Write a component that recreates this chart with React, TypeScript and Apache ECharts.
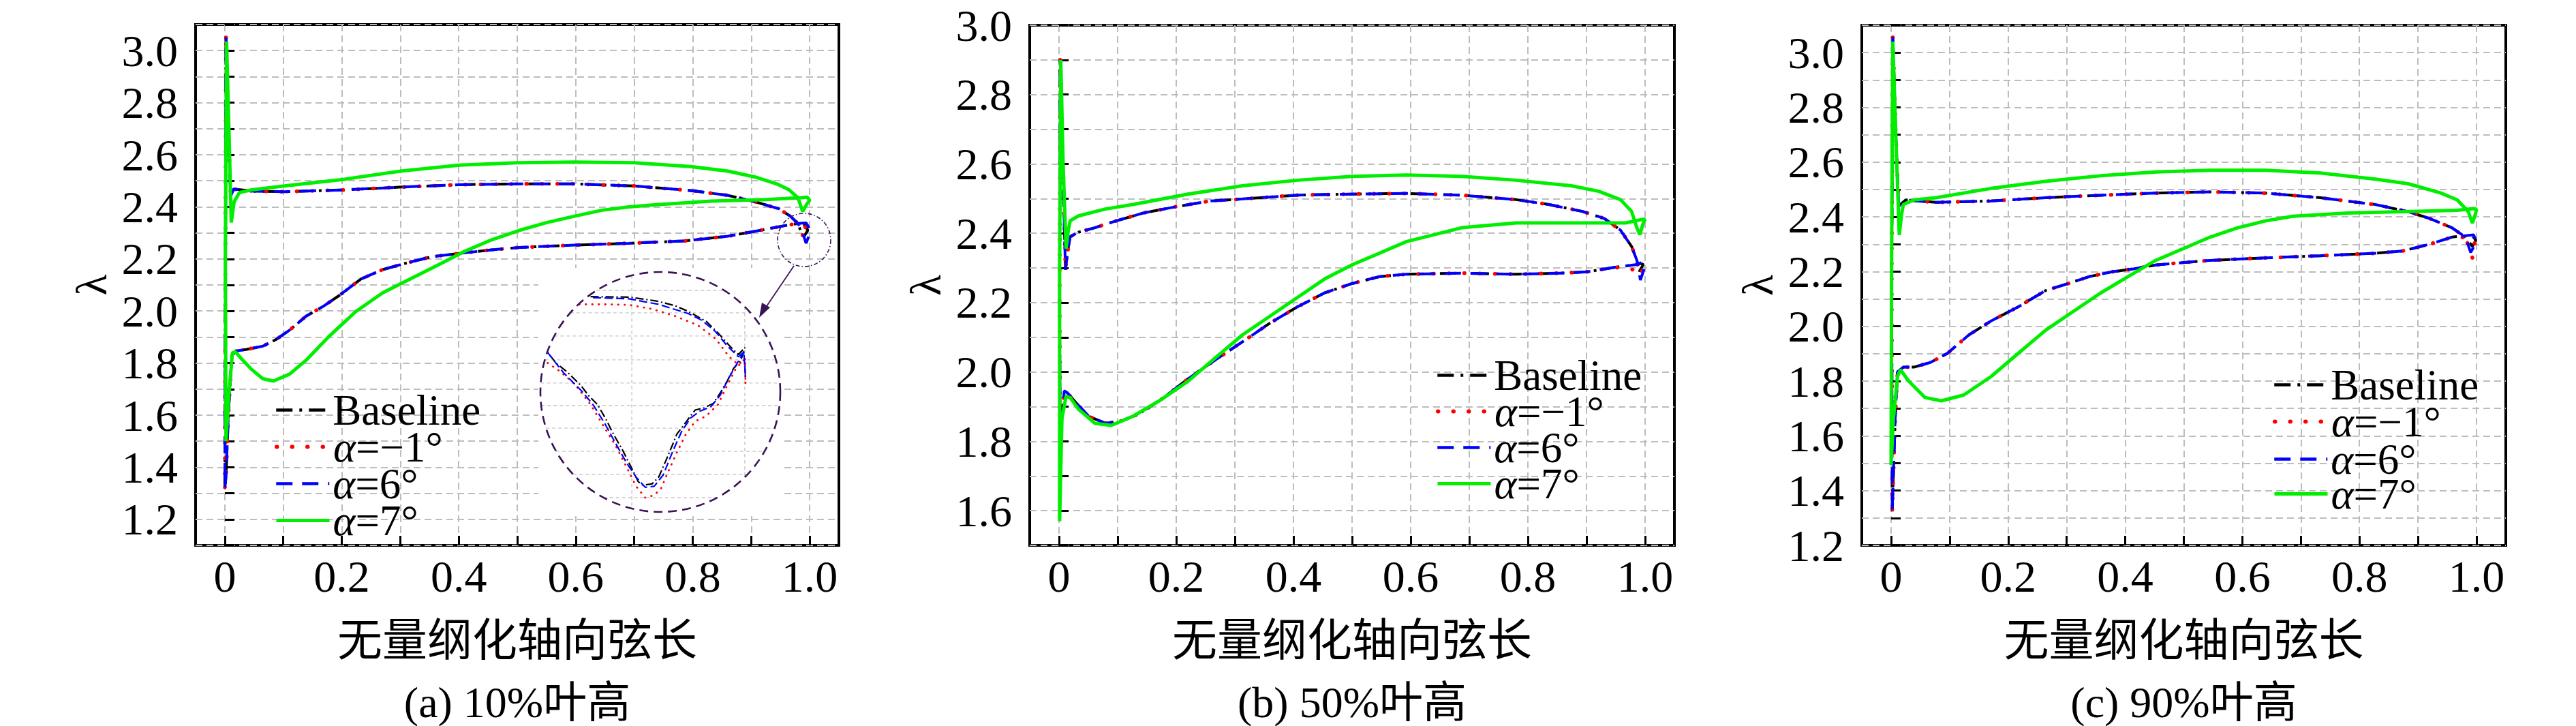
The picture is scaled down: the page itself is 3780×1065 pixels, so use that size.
import React, { useEffect, useRef } from "react";
import * as echarts from "echarts";

// ---------- tick values ----------
const xTickValues = [0, 0.1, 0.2, 0.3, 0.4, 0.5, 0.6, 0.7, 0.8, 0.9, 1.0];
const xLabelValues = [0, 0.2, 0.4, 0.6, 0.8, 1.0];
const yRanges = [
  [1.1, 3.1],
  [1.5, 3.0],
  [1.2, 3.1],
];
const yLabelValues = [
  [1.2, 1.4, 1.6, 1.8, 2.0, 2.2, 2.4, 2.6, 2.8, 3.0],
  [1.6, 1.8, 2.0, 2.2, 2.4, 2.6, 2.8, 3.0],
  [1.2, 1.4, 1.6, 1.8, 2.0, 2.2, 2.4, 2.6, 2.8, 3.0],
];
const captions = ["(a) 10%叶高", "(b) 50%叶高", "(c) 90%叶高"];
const seriesNames = ["Baseline", "α=−1°", "α=6°", "α=7°"];
const xAxisTitle = "无量纲化轴向弦长";
const yAxisTitle = "λ";

// ---------- panel (a) 10% ----------
const a_spike = [[0.002, 3.05], [0.006, 2.7], [0.01, 2.44], [0.015, 2.468], [0.025, 2.466]];
const a_suction = [[0.05, 2.46], [0.102, 2.458], [0.205, 2.465], [0.303, 2.476], [0.401, 2.485], [0.5, 2.488], [0.598, 2.488], [0.7, 2.48], [0.799, 2.462], [0.86, 2.444], [0.906, 2.42], [0.948, 2.392], [0.967, 2.364], [0.979, 2.338]];
const a_te_base = [[0.987, 2.296], [0.99, 2.285], [0.997, 2.31], [0.99, 2.333]];
const a_te_m1 = [[0.985, 2.32], [0.992, 2.251], [0.998, 2.3], [0.99, 2.332]];
const a_te_p6 = [[0.985, 2.32], [0.994, 2.26], [1.002, 2.309], [0.994, 2.338]];
const a_pressure = [[0.98, 2.336], [0.963, 2.33], [0.916, 2.31], [0.86, 2.287], [0.785, 2.269], [0.691, 2.26], [0.598, 2.253], [0.504, 2.244], [0.457, 2.235], [0.401, 2.221], [0.355, 2.209], [0.312, 2.185], [0.27, 2.159], [0.233, 2.123], [0.196, 2.06], [0.167, 2.016], [0.139, 1.98], [0.111, 1.927], [0.088, 1.891], [0.065, 1.865], [0.036, 1.852], [0.02, 1.847]];
const a_le = [[0.012, 1.83], [0.006, 1.6], [0.002, 1.36], [0.0, 1.32], [0.001, 2.2], [0.002, 3.05]];
const a_alpha7 = [[0.003, 3.035], [0.007, 2.7], [0.011, 2.34], [0.016, 2.42], [0.025, 2.455], [0.046, 2.465], [0.102, 2.48], [0.205, 2.506], [0.303, 2.538], [0.401, 2.56], [0.5, 2.569], [0.598, 2.572], [0.7, 2.569], [0.799, 2.554], [0.86, 2.537], [0.906, 2.515], [0.944, 2.488], [0.965, 2.465], [0.98, 2.435], [0.988, 2.382], [0.995, 2.41], [1.0, 2.425], [0.996, 2.437], [0.985, 2.435], [0.925, 2.428], [0.832, 2.422], [0.738, 2.408], [0.691, 2.4], [0.645, 2.387], [0.598, 2.364], [0.551, 2.34], [0.504, 2.31], [0.457, 2.274], [0.411, 2.23], [0.364, 2.176], [0.317, 2.123], [0.27, 2.07], [0.224, 1.998], [0.177, 1.9], [0.139, 1.811], [0.111, 1.758], [0.083, 1.731], [0.065, 1.74], [0.046, 1.775], [0.027, 1.82], [0.018, 1.843], [0.013, 1.84], [0.007, 1.68], [0.002, 1.5], [0.001, 2.2], [0.003, 3.035]];

// ---------- panel (b) 50% ----------
const b_spike = [[0.002, 2.9], [0.007, 2.55], [0.011, 2.295], [0.015, 2.35], [0.019, 2.39]];
const b_suction = [[0.033, 2.403], [0.061, 2.416], [0.098, 2.436], [0.145, 2.459], [0.201, 2.477], [0.257, 2.493], [0.313, 2.499], [0.407, 2.51], [0.5, 2.513], [0.593, 2.515], [0.687, 2.51], [0.78, 2.497], [0.836, 2.483], [0.893, 2.463], [0.93, 2.443], [0.958, 2.409], [0.977, 2.362], [0.986, 2.322]];
const b_te_base = [[0.99, 2.29], [0.997, 2.31], [0.993, 2.313], [0.985, 2.31]];
const b_te_m1 = [[0.99, 2.28], [0.998, 2.3], [0.99, 2.296], [0.975, 2.295]];
const b_te_p6 = [[0.992, 2.265], [0.999, 2.3], [0.996, 2.318], [0.986, 2.31]];
const b_pressure = [[0.949, 2.302], [0.902, 2.289], [0.855, 2.285], [0.78, 2.282], [0.687, 2.285], [0.593, 2.282], [0.547, 2.275], [0.5, 2.255], [0.453, 2.228], [0.407, 2.188], [0.36, 2.141], [0.313, 2.087], [0.266, 2.034], [0.22, 1.98], [0.173, 1.919], [0.136, 1.879], [0.107, 1.859], [0.079, 1.852], [0.051, 1.872], [0.028, 1.913], [0.014, 1.94], [0.009, 1.946]];
const b_le = [[0.005, 1.87], [0.002, 1.8], [0.001, 2.2], [0.002, 2.9]];
const b_alpha7 = [[0.003, 2.9], [0.007, 2.6], [0.012, 2.356], [0.016, 2.41], [0.019, 2.436], [0.033, 2.45], [0.079, 2.47], [0.126, 2.483], [0.22, 2.513], [0.313, 2.537], [0.407, 2.553], [0.5, 2.564], [0.593, 2.568], [0.687, 2.564], [0.78, 2.553], [0.874, 2.537], [0.921, 2.521], [0.958, 2.497], [0.977, 2.463], [0.986, 2.416], [0.991, 2.396], [0.997, 2.43], [1.0, 2.44], [0.995, 2.44], [0.967, 2.43], [0.874, 2.43], [0.78, 2.43], [0.687, 2.416], [0.593, 2.376], [0.5, 2.309], [0.453, 2.268], [0.407, 2.215], [0.36, 2.161], [0.313, 2.107], [0.266, 2.04], [0.22, 1.973], [0.173, 1.919], [0.126, 1.872], [0.089, 1.846], [0.061, 1.852], [0.033, 1.893], [0.019, 1.926], [0.012, 1.93], [0.005, 1.866], [0.001, 1.57], [0.001, 2.3], [0.003, 2.9]];

// ---------- panel (c) 90% ----------
const c_spike = [[0.003, 3.056], [0.008, 2.7], [0.013, 2.44], [0.016, 2.445], [0.025, 2.462]];
const c_suction = [[0.05, 2.457], [0.077, 2.453], [0.171, 2.458], [0.264, 2.47], [0.358, 2.479], [0.452, 2.487], [0.545, 2.491], [0.639, 2.487], [0.733, 2.47], [0.827, 2.445], [0.883, 2.419], [0.92, 2.394], [0.958, 2.36], [0.981, 2.326]];
const c_te_base = [[0.993, 2.292], [0.999, 2.315], [0.993, 2.33], [0.975, 2.33]];
const c_te_m1 = [[0.993, 2.25], [0.998, 2.3], [0.99, 2.325], [0.975, 2.325]];
const c_te_p6 = [[0.99, 2.27], [1.0, 2.309], [0.995, 2.334], [0.975, 2.33]];
const c_pressure = [[0.958, 2.326], [0.92, 2.3], [0.873, 2.275], [0.827, 2.267], [0.733, 2.258], [0.639, 2.25], [0.545, 2.241], [0.498, 2.233], [0.452, 2.224], [0.414, 2.21], [0.377, 2.199], [0.339, 2.182], [0.302, 2.156], [0.264, 2.131], [0.217, 2.071], [0.171, 2.02], [0.133, 1.969], [0.096, 1.901], [0.067, 1.868], [0.039, 1.851], [0.021, 1.851], [0.011, 1.834]];
const c_le = [[0.007, 1.664], [0.002, 1.324], [0.001, 2.2], [0.003, 3.056]];
const c_alpha7 = [[0.003, 3.04], [0.008, 2.7], [0.014, 2.334], [0.018, 2.41], [0.021, 2.445], [0.039, 2.462], [0.077, 2.47], [0.171, 2.504], [0.264, 2.53], [0.358, 2.55], [0.452, 2.564], [0.545, 2.57], [0.639, 2.57], [0.733, 2.56], [0.827, 2.538], [0.883, 2.521], [0.939, 2.487], [0.967, 2.462], [0.986, 2.419], [0.993, 2.377], [0.998, 2.41], [1.0, 2.428], [0.995, 2.43], [0.967, 2.424], [0.873, 2.419], [0.78, 2.414], [0.686, 2.402], [0.639, 2.385], [0.592, 2.36], [0.545, 2.326], [0.499, 2.284], [0.452, 2.241], [0.405, 2.182], [0.358, 2.122], [0.311, 2.054], [0.264, 1.986], [0.217, 1.901], [0.171, 1.817], [0.124, 1.749], [0.086, 1.728], [0.058, 1.74], [0.03, 1.8], [0.016, 1.842], [0.011, 1.817], [0.004, 1.664], [0.0, 1.494], [0.001, 2.3], [0.003, 3.04]];

// ---------- inset of panel (a): magnified trailing edge (local 0..100 units) ----------
const inset_base = [[20.9, 89.5], [37.0, 89.3], [48.4, 87.7], [56.0, 85.8], [61.6, 83.4], [69.2, 79.2], [74.0, 74.5], [78.7, 69.3], [82.5, 65.5], [85.3, 68.4], [83.5, 63.0], [80.6, 59.9], [77.7, 54.2], [74.9, 49.5], [72.1, 45.3], [68.3, 43.4], [64.5, 42.5], [62.6, 40.1], [59.8, 36.3], [56.9, 32.6], [55.0, 27.9], [52.2, 21.3], [49.3, 14.7], [46.5, 11.9], [42.7, 11.4], [40.8, 12.8], [38.0, 18.5], [34.2, 26.0], [30.4, 32.6], [27.6, 38.2], [23.8, 44.8], [20.0, 48.6], [17.1, 52.4], [11.5, 58.0], [6.7, 61.8], [2.9, 66.5]];
const inset_m1 = [[16.2, 86.3], [27.6, 86.3], [37.0, 86.1], [46.5, 84.4], [56.0, 81.5], [65.4, 77.8], [73.0, 72.1], [78.7, 64.6], [82.5, 61.3], [85.3, 63.7], [85.5, 53.3], [85.3, 63.7], [81.6, 59.9], [77.7, 52.4], [74.0, 44.8], [69.2, 40.1], [64.5, 37.8], [60.7, 32.6], [56.9, 25.0], [53.1, 16.6], [50.3, 10.0], [47.4, 7.2], [43.7, 6.2], [39.9, 10.9], [36.1, 18.5], [31.3, 27.9], [26.6, 35.4], [20.9, 44.8], [14.3, 53.3], [7.7, 58.9], [2.0, 62.7]];
const inset_p6 = [[21.9, 89.1], [37.0, 88.6], [49.3, 86.3], [61.6, 82.5], [67.3, 79.7], [73.0, 75.0], [77.7, 69.3], [82.5, 64.6], [84.8, 66.5], [85.5, 56.1], [84.8, 66.5], [82.5, 62.7], [78.7, 56.1], [74.9, 48.6], [71.1, 43.9], [66.4, 42.0], [62.6, 39.2], [58.8, 33.5], [55.0, 25.0], [51.2, 15.6], [47.4, 10.9], [43.7, 10.5], [39.9, 14.7], [36.1, 20.3], [31.3, 28.8], [26.6, 37.3], [21.9, 44.8], [17.1, 50.5], [9.6, 58.0], [2.9, 66.5]];
const insetGridV = [38.1, 85.2];
const insetGridH = [92.1, 82.8, 73.2, 63.3, 53.7, 44.4, 35.0, 25.4, 15.8, 6.2];

// ---------- layout ----------
const W = 3780;
const H = 1065;
const grids = [
  { left: 287, top: 36, width: 944, height: 764 },
  { left: 1511, top: 37, width: 946, height: 763 },
  { left: 2732, top: 37, width: 945, height: 763 },
];
// legend: left edge of the key line, and the centre line of each of the four rows
const legendLeft = [403, 2107, 3335];
const legendRows = [
  [597, 651, 705, 759],
  [546, 599, 652, 705],
  [560, 614, 669, 720],
];
const insetBox = { left: 793, top: 398, width: 352, height: 354 };
const X_MIN = -0.05;
const X_MAX = 1.05;
const TICK_FONT = "66px Liberation Serif, serif";
const X_LABEL_OFFSET = 45; // centre of x tick labels below the frame
const Y_LABEL_OFFSET = 26; // gap between frame and right edge of y tick labels
const LAMBDA_OFFSET = 153; // frame left to centre of the λ title

const SERIF = "Liberation Serif";
const CJK = "Noto Sans CJK SC";
const MIXED = "Liberation Serif, Noto Sans CJK SC, serif";
const PURPLE = "#3a1356";

const styles = [
  { color: "#000000", width: 4.5, type: [24, 10, 4, 10] },
  { color: "#ff0000", width: 6, type: [0.5, 22], cap: "round" },
  { color: "#0000ff", width: 4.5, type: [24, 14] },
  { color: "#00ee00", width: 5, type: "solid" },
];
const insetStyles = [
  { color: "#000000", width: 2.2, type: [12, 4, 2, 4] },
  { color: "#ff0000", width: 2.8, type: [0.5, 9], cap: "round" },
  { color: "#0000ff", width: 2.2, type: [12, 5] },
];

function buildOption() {
  const panels = [
    { spike: a_spike, suc: a_suction, te: [a_te_base, a_te_m1, a_te_p6], pre: a_pressure, le: a_le, g: a_alpha7 },
    { spike: b_spike, suc: b_suction, te: [b_te_base, b_te_m1, b_te_p6], pre: b_pressure, le: b_le, g: b_alpha7 },
    { spike: c_spike, suc: c_suction, te: [c_te_base, c_te_m1, c_te_p6], pre: c_pressure, le: c_le, g: c_alpha7 },
  ];

  const series: any[] = [];
  panels.forEach((p, i) => {
    for (let k = 0; k < 3; k++) {
      series.push({
        type: "line",
        name: seriesNames[k],
        xAxisIndex: i,
        yAxisIndex: i,
        data: [...p.spike, ...p.suc, ...p.te[k], ...p.pre, ...p.le],
        symbol: "none",
        lineStyle: { ...styles[k], width: styles[k].width - 0.5 },
        itemStyle: { color: styles[k].color },
        z: 2 + k,
      });
    }
    series.push({
      type: "line",
      name: seriesNames[3],
      xAxisIndex: i,
      yAxisIndex: i,
      data: p.g,
      symbol: "none",
      lineStyle: styles[3],
      itemStyle: { color: styles[3].color },
      z: 6,
    });

    // tick labels, placed by this panel's own axis scales (serif face)
    const yMin = yRanges[i][0];
    const labelData = [
      ...xLabelValues.map((v) => [v, 0]),
      ...yLabelValues[i].map((v) => [v, 1]),
    ];
    series.push({
      type: "custom",
      name: "tick-labels-" + i,
      xAxisIndex: i,
      yAxisIndex: i,
      data: labelData,
      clip: false,
      silent: true,
      z: 12,
      renderItem: (params: any, api: any) => {
        const v = api.value(0);
        const kind = api.value(1);
        if (kind === 0) {
          const pt = api.coord([v, yMin]);
          const txt = Math.abs(v) < 1e-9 ? "0" : v.toFixed(1);
          return {
            type: "text",
            x: pt[0],
            y: pt[1] + X_LABEL_OFFSET,
            style: { text: txt, font: TICK_FONT, fill: "#000", align: "center", verticalAlign: "middle", textAlign: "center", textVerticalAlign: "middle" },
          };
        }
        const pt = api.coord([X_MIN, v]);
        return {
          type: "text",
          x: pt[0] - Y_LABEL_OFFSET,
          y: pt[1],
          style: { text: v.toFixed(1), font: TICK_FONT, fill: "#000", align: "right", verticalAlign: "middle", textAlign: "right", textVerticalAlign: "middle" },
        };
      },
    });
  });

  // inset faint grid (clipped to the circle)
  const insetLines = [
    ...insetGridV.map((v) => [v, 1]),
    ...insetGridH.map((v) => [v, 0]),
  ];
  series.push({
    type: "custom",
    name: "inset-grid",
    xAxisIndex: 3,
    yAxisIndex: 3,
    data: insetLines,
    z: 3,
    silent: true,
    renderItem: (params: any, api: any) => {
      const v = api.value(0);
      const dir = api.value(1);
      const c = api.coord([50, 50]);
      const r = api.size([50, 50])[0];
      const st = { stroke: "#c8c8c8", lineWidth: 1.4, lineDash: [5, 4] };
      if (dir === 1) {
        const px = api.coord([v, 0])[0];
        const dx = px - c[0];
        const half = Math.sqrt(Math.max(0, r * r - dx * dx));
        return { type: "line", shape: { x1: px, y1: c[1] - half, x2: px, y2: c[1] + half }, style: st };
      }
      const py = api.coord([0, v])[1];
      const dy = py - c[1];
      const half = Math.sqrt(Math.max(0, r * r - dy * dy));
      return { type: "line", shape: { x1: c[0] - half, y1: py, x2: c[0] + half, y2: py }, style: st };
    },
  });
  [inset_base, inset_m1, inset_p6].forEach((d, k) => {
    series.push({
      type: "line",
      name: "inset-" + k,
      xAxisIndex: 3,
      yAxisIndex: 3,
      data: d,
      symbol: "none",
      lineStyle: insetStyles[k],
      z: 4 + k,
      silent: true,
    });
  });

  const xAxis: any[] = grids.map((_, i) => ({
    type: "value",
    gridIndex: i,
    min: X_MIN,
    max: X_MAX,
    axisLine: { show: false },
    axisTick: { show: true, inside: true, length: 14, lineStyle: { color: "#000", width: 3 }, customValues: xTickValues },
    axisLabel: { show: false, customValues: xLabelValues },
    splitLine: { show: true, lineStyle: { color: "#bdbdbd", width: 2, type: [10, 6] } },
    name: xAxisTitle,
    nameLocation: "middle",
    nameGap: 100,
    nameTextStyle: { color: "#000", fontFamily: CJK, fontSize: 66 },
  }));
  xAxis.push({ type: "value", gridIndex: 3, min: 0, max: 100, show: false });

  const yAxis: any[] = grids.map((_, i) => ({
    type: "value",
    gridIndex: i,
    min: yRanges[i][0],
    max: yRanges[i][1],
    interval: 0.1,
    axisLine: { show: false },
    axisTick: { show: true, inside: true, length: 14, lineStyle: { color: "#000", width: 3 } },
    axisLabel: { show: false },
    splitLine: { show: true, lineStyle: { color: "#bdbdbd", width: 2, type: [10, 6] } },
  }));
  yAxis.push({ type: "value", gridIndex: 3, min: 0, max: 100, show: false });

  const grid: any[] = grids.map((g) => ({
    ...g,
    show: true,
    borderColor: "#000",
    borderWidth: 4,
    backgroundColor: "transparent",
    containLabel: false,
  }));
  grid.push({ ...insetBox, show: false, containLabel: false });

  // one legend component per key row, so each row sits exactly where the reference has it
  const legend: any[] = [];
  legendLeft.forEach((left, p) => {
    seriesNames.forEach((name, k) => {
      legend.push({
        show: true,
        left,
        top: legendRows[p][k] - 27,
        orient: "vertical",
        data: [name],
        itemWidth: 78,
        itemHeight: 20,
        itemGap: 0,
        padding: 0,
        selectedMode: false,
        itemStyle: { opacity: 0 },
        lineStyle: { width: styles[k].width },
        formatter: (n: string) => (n.startsWith("α") ? "{i|α}" + n.slice(1) : n),
        textStyle: {
          color: "#000",
          fontFamily: SERIF,
          fontSize: 63,
          lineHeight: 54,
          rich: { i: { fontStyle: "italic", fontFamily: SERIF, fontSize: 63, lineHeight: 54, color: "#000" } },
        },
      });
    });
  });

  const centers = grids.map((g) => g.left + g.width / 2);
  const graphic: any[] = [
    { type: "rect", shape: { x: 790, y: 393, width: 357, height: 364 }, style: { fill: "#ffffff" }, z: 1, silent: true },
    { type: "circle", shape: { cx: 969, cy: 575, r: 176 }, style: { fill: "none", stroke: PURPLE, lineWidth: 2.6, lineDash: [13, 8] }, z: 10, silent: true },
    { type: "circle", shape: { cx: 1180, cy: 352, r: 39 }, style: { fill: "none", stroke: PURPLE, lineWidth: 1.6, lineDash: [6, 3, 1.5, 3] }, z: 10, silent: true },
    { type: "line", shape: { x1: 1165, y1: 390, x2: 1121, y2: 455 }, style: { stroke: PURPLE, lineWidth: 1.8 }, z: 10, silent: true },
    { type: "polygon", shape: { points: [[1114, 466], [1130, 451], [1118, 444]] }, style: { fill: PURPLE }, z: 10, silent: true },
    ...captions.map((t, i) => ({
      type: "text",
      x: centers[i],
      y: 1030,
      style: { text: t, fill: "#000", font: `64px ${MIXED}`, textAlign: "center", textVerticalAlign: "middle" },
      silent: true,
    })),
    ...grids.map((g) => ({
      type: "text",
      x: g.left - LAMBDA_OFFSET,
      y: g.top + g.height / 2,
      rotation: Math.PI / 2,
      style: { text: yAxisTitle, fill: "#000", font: "64px Liberation Serif, serif", textAlign: "center", textVerticalAlign: "middle" },
      silent: true,
    })),
  ];

  return {
    animation: false,
    backgroundColor: "#ffffff",
    textStyle: { fontFamily: SERIF, color: "#000" },
    grid,
    xAxis,
    yAxis,
    legend,
    series,
    graphic,
  };
}

export default function App() {
  const ref = useRef<HTMLDivElement>(null);
  useEffect(() => {
    document.body.style.margin = "0";
    if (!ref.current) return;
    const chart = echarts.init(ref.current, undefined, { renderer: "svg" });
    chart.setOption(buildOption() as any);
    return () => chart.dispose();
  }, []);
  return <div ref={ref} style={{ width: W, height: H, background: "#fff" }} />;
}
